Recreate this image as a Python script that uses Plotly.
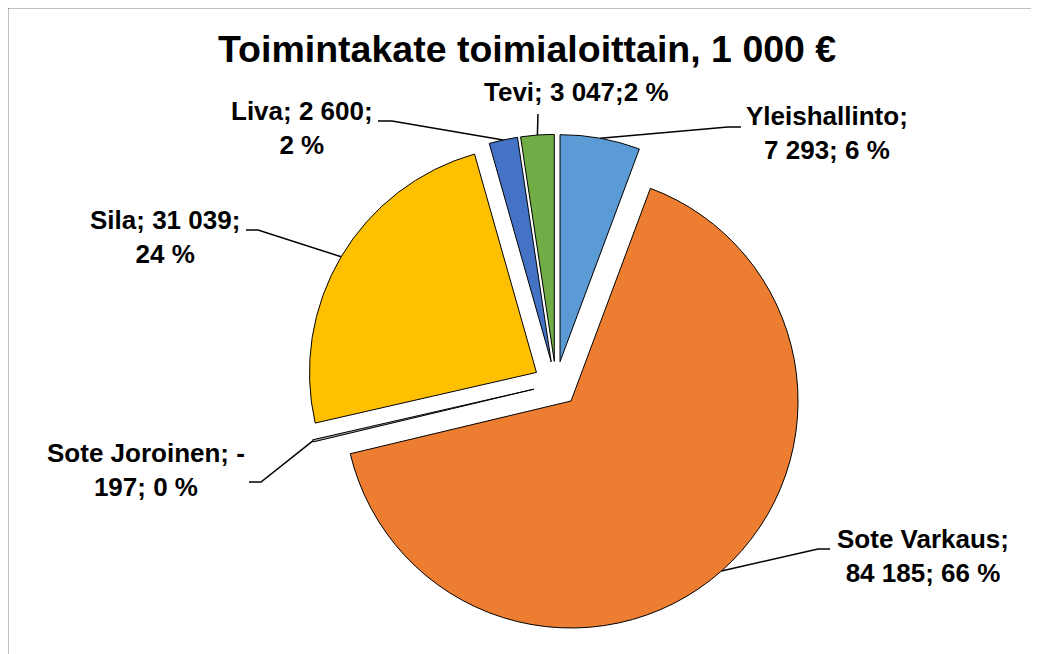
import math
import plotly.graph_objects as go

W, H = 1039, 654
OFF = 8                      # page body margin
FW, FH = W - OFF, H - OFF    # figure reaches the window's right and bottom edges

# ── data ──
names = ["Yleishallinto", "Sote Varkaus", "Sote Joroinen", "Sila", "Liva", "Tevi"]
values = [7293, 84185, -197, 31039, 2600, 3047]
colors = ["#5B9BD5", "#ED7D31", "#A5A5A5", "#FFC000", "#4472C4", "#70AD47"]
title = "Toimintakate toimialoittain, 1 000 €"

# how each Excel data label wraps
label_fmt = [
    "{n};<br>{s}{a}; {p} %",
    "{n};<br>{s}{a}; {p} %",
    "{n}; {s}<br>{a}; {p} %",
    "{n}; {s}{a};<br>{p} %",
    "{n}; {s}{a};<br>{p} %",
    "{n}; {s}{a};{p} %",
]

# ── layout (screen pixels) ──
PIE_C = (556, 384)
PIE_R = 227
PULL = 0.1
FONT = "Liberation Sans, Arial, sans-serif"

# label block centres and leader stub (start, elbow) per slice
label_pos = [(827, 133), (923, 556), (146, 470), (165, 237), (302, 128), (576, 92)]
stub = [
    ((741, 127), (728, 127)),
    ((830, 549), (818, 549)),
    ((249, 482), (261, 482)),
    ((246, 230), (258, 230)),
    ((378, 121), (392, 121)),
    ((538, 114), (538, 114)),
]


def px(x, y):
    return (x - OFF) / FW, 1 - (y - OFF) / FH


abs_vals = [abs(v) for v in values]
total = sum(abs_vals)
pcts = [round(100 * v / total) for v in abs_vals]

side = 2 * PIE_R * (1 + PULL)
dx0, dy1 = px(PIE_C[0] - side / 2, PIE_C[1] - side / 2)
dx1, dy0 = px(PIE_C[0] + side / 2, PIE_C[1] + side / 2)

fig = go.Figure(go.Pie(
    labels=names, values=abs_vals, sort=False, direction="clockwise", rotation=0,
    pull=[PULL] * len(values),
    marker=dict(colors=colors, line=dict(color="#000000", width=1)),
    textinfo="none", showlegend=False,
    domain=dict(x=[dx0, dx1], y=[dy0, dy1]),
))

# chart frame: only left and top edges fall inside the picture
fl, ft = px(7, 7)
shapes = [dict(type="path", xref="paper", yref="paper",
               path=f"M {fl:.5f},-0.05 L {fl:.5f},{ft:.5f} L 1.05,{ft:.5f}",
               line=dict(color="#000000", width=2.5))]
tx, ty = px(527, 49)
annotations = [dict(text=f"<b>{title}</b>", x=tx, y=ty,
                    xref="paper", yref="paper", showarrow=False,
                    xanchor="center", yanchor="middle",
                    font=dict(family=FONT, size=37.5, color="#000000"))]

cum = 0
for i, v in enumerate(abs_vals):
    mid = (cum + v / 2) / total
    cum += v
    th = 2 * math.pi * mid
    ex = PIE_C[0] + PIE_R * (1 + PULL) * math.sin(th)
    ey = PIE_C[1] - PIE_R * (1 + PULL) * math.cos(th)
    (sx, sy), (bx, by) = stub[i]
    p = [px(sx, sy), px(bx, by), px(ex, ey)]
    path = "M {:.5f},{:.5f} L {:.5f},{:.5f} L {:.5f},{:.5f}".format(*p[0], *p[1], *p[2])
    shapes.append(dict(type="path", xref="paper", yref="paper", path=path,
                       line=dict(color="#000000", width=1.5)))
    txt = label_fmt[i].format(n=names[i], s="-" if values[i] < 0 else "",
                              a=f"{abs(values[i]):,}".replace(",", " "), p=pcts[i])
    lx, ly = px(*label_pos[i])
    annotations.append(dict(text=f"<b>{txt}</b>", x=lx, y=ly, xref="paper", yref="paper",
                            showarrow=False, xanchor="center", yanchor="middle", align="center",
                            font=dict(family=FONT, size=26, color="#000000")))

fig.update_layout(
    width=FW, height=FH,
    margin=dict(l=0, r=0, t=0, b=0),
    paper_bgcolor="#FFFFFF", plot_bgcolor="#FFFFFF",
    shapes=shapes, annotations=annotations,
)

fig.write_html("out.html")
